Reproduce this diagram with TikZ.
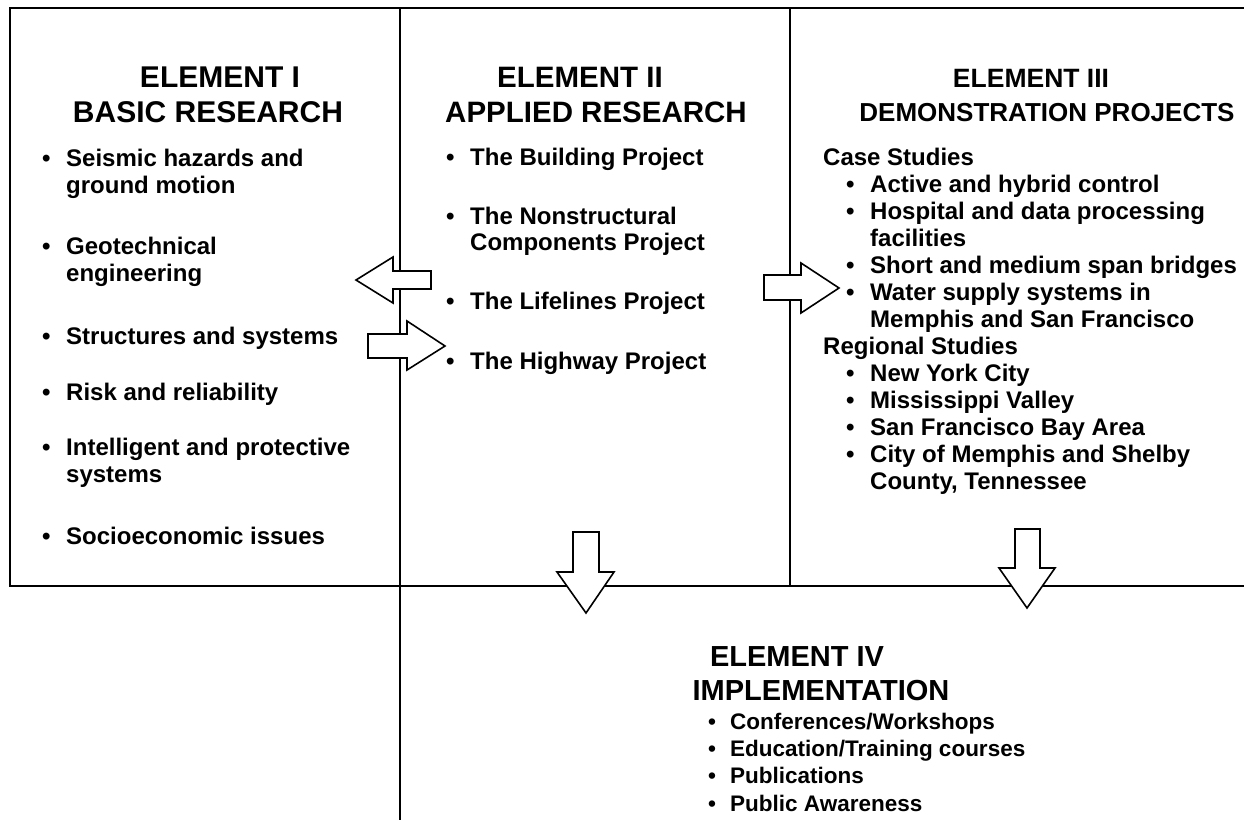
\documentclass[tikz,border=0pt]{standalone}
\usepackage{fontspec}
\setmainfont{Liberation Sans}
\newcommand{\bu}{\makebox[24pt][l]{•}}
\newcommand{\bv}{\makebox[22pt][l]{•}}
\begin{document}
\begin{tikzpicture}[x=1pt,y=-1pt,
  frame/.style={line width=2.6pt},
  barrow/.style={draw, fill=white, line width=1.6pt, line join=miter},
  ttl/.style={anchor=base, inner sep=0pt},
  lst/.style={anchor=base west, inner sep=0pt, font=\fontsize{24}{27}\selectfont\bfseries}]
\useasboundingbox (0,0) rectangle (1244,820);
% frame lines
\coordinate (tr) at (1244,8);
\coordinate (tl) at (10,8);
\coordinate (bl) at (10,586);
\coordinate (br) at (1244,586);
\coordinate (v1t) at (400,8);
\coordinate (v1b) at (400,820);
\coordinate (v2t) at (790,8);
\coordinate (v2b) at (790,586);
\draw[frame] (tr) -- (tl) -- (bl) -- (br);
\draw[frame] (v1t) -- (v1b);
\draw[frame] (v2t) -- (v2b);
% block arrows
\draw[barrow] (431,271) -- (393,271) -- (393,257) -- (356,280) -- (393,303) -- (393,289) -- (431,289) -- cycle;
\draw[barrow] (368,334) -- (407,334) -- (407,321) -- (445,346) -- (407,370) -- (407,358) -- (368,358) -- cycle;
\draw[barrow] (764,275) -- (801,275) -- (801,263) -- (839,288) -- (801,313) -- (801,300) -- (764,300) -- cycle;
\draw[barrow] (573,532) -- (573,572) -- (557,572) -- (586,613) -- (614,572) -- (599,572) -- (599,532) -- cycle;
\draw[barrow] (1015,529) -- (1015,568) -- (999,568) -- (1027,608) -- (1055,568) -- (1040,568) -- (1040,529) -- cycle;
% titles
\node[ttl, font=\fontsize{30}{34}\selectfont\bfseries] (t1a) at (220,87) {ELEMENT I};
\node[ttl, font=\fontsize{30}{34}\selectfont\bfseries] (t1b) at (208,122) {BASIC RESEARCH};
\node[ttl, font=\fontsize{29.5}{34}\selectfont\bfseries] (t2a) at (580,87) {ELEMENT II};
\node[ttl, font=\fontsize{29.5}{34}\selectfont\bfseries] (t2b) at (596,122) {APPLIED RESEARCH};
\node[ttl, font=\fontsize{26.5}{34}\selectfont\bfseries] (t3a) at (1031,87) {ELEMENT III};
\node[ttl, font=\fontsize{26}{34}\selectfont\bfseries] (t3b) at (1047,121) {DEMONSTRATION PROJECTS};
\node[ttl, font=\fontsize{29}{34}\selectfont\bfseries] (t4a) at (797,666) {ELEMENT IV};
\node[ttl, font=\fontsize{29}{34}\selectfont\bfseries] (t4b) at (821,700) {IMPLEMENTATION};
% element I list
\node[lst] (l1a) at (42,166) {\begin{tabular}[t]{@{}l@{}l@{}}\bu & Seismic hazards and\\ & ground motion\end{tabular}};
\node[lst] (l1b) at (42,254) {\begin{tabular}[t]{@{}l@{}l@{}}\bu & Geotechnical\\ & engineering\end{tabular}};
\node[lst] (l1c) at (42,344) {\begin{tabular}[t]{@{}l@{}l@{}}\bu & Structures and systems\end{tabular}};
\node[lst] (l1d) at (42,400) {\begin{tabular}[t]{@{}l@{}l@{}}\bu & Risk and reliability\end{tabular}};
\node[lst] (l1e) at (42,455) {\begin{tabular}[t]{@{}l@{}l@{}}\bu & Intelligent and protective\\ & systems\end{tabular}};
\node[lst] (l1f) at (42,544) {\begin{tabular}[t]{@{}l@{}l@{}}\bu & Socioeconomic issues\end{tabular}};
% element II list
\node[lst, font=\fontsize{24}{26}\selectfont\bfseries] (l2a) at (446,165) {\begin{tabular}[t]{@{}l@{}l@{}}\bu & The Building Project\end{tabular}};
\node[lst, font=\fontsize{24}{26}\selectfont\bfseries] (l2b) at (446,224) {\begin{tabular}[t]{@{}l@{}l@{}}\bu & The Nonstructural\\ & Components Project\end{tabular}};
\node[lst] (l2c) at (446,309) {\begin{tabular}[t]{@{}l@{}l@{}}\bu & The Lifelines Project\end{tabular}};
\node[lst] (l2d) at (446,369) {\begin{tabular}[t]{@{}l@{}l@{}}\bu & The Highway Project\end{tabular}};
% element III list
\node[lst] (l3) at (823,165) {\begin{tabular}[t]{@{}l@{}l@{}l@{}}
\multicolumn{3}{@{}l@{}}{Case Studies}\\
\hspace*{23pt} & \bu & Active and hybrid control\\
 & \bu & Hospital and data processing\\
 & & facilities\\
 & \bu & Short and medium span bridges\\
 & \bu & Water supply systems in\\
 & & Memphis and San Francisco\\
\multicolumn{3}{@{}l@{}}{Regional Studies}\\
 & \bu & New York City\\
 & \bu & Mississippi Valley\\
 & \bu & San Francisco Bay Area\\
 & \bu & City of Memphis and Shelby\\
 & & County, Tennessee
\end{tabular}};
% element IV list
\node[lst, font=\fontsize{22.5}{27.4}\selectfont\bfseries] (l4) at (708,729) {\begin{tabular}[t]{@{}l@{}l@{}}
\bv & Conferences/Workshops\\
\bv & Education/Training courses\\
\bv & Publications\\
\bv & Public Awareness
\end{tabular}};
\end{tikzpicture}
\end{document}
